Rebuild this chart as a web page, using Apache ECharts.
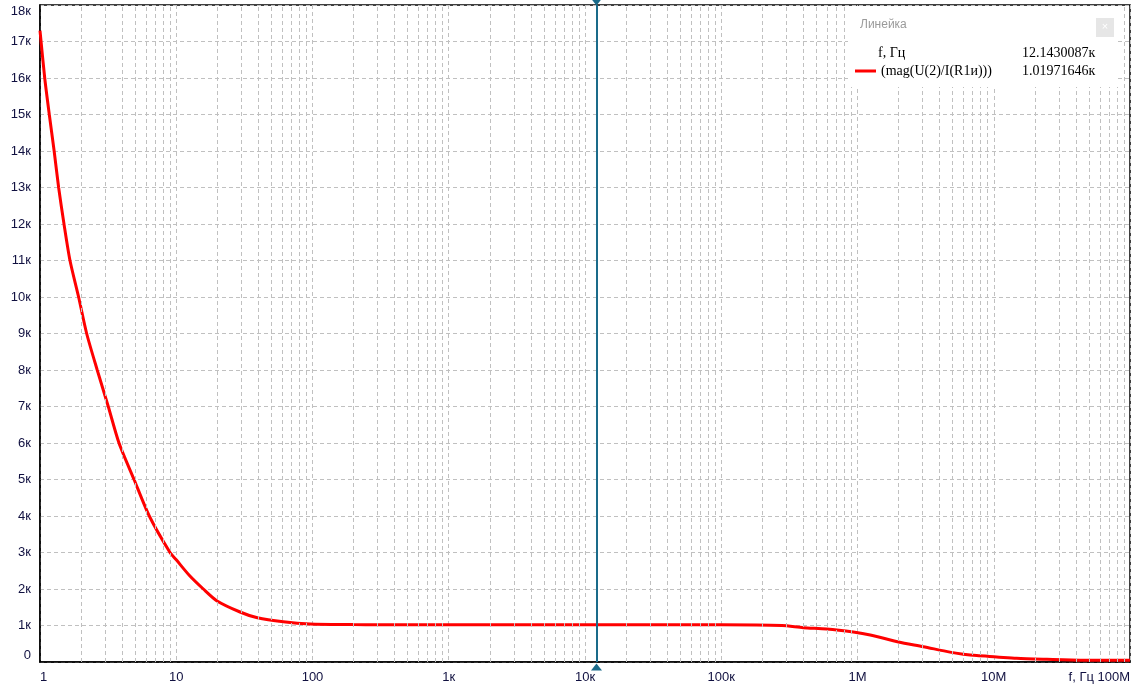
<!DOCTYPE html>
<html>
<head>
<meta charset="utf-8">
<script src="https://cdn.jsdelivr.net/npm/echarts@6/dist/echarts.min.js"></script>
<style>
html,body{margin:0;padding:0;background:#fff;}
#c{width:1136px;height:687px;}
</style>
</head>
<body>
<div id="c"></div>
<script>
// ---- data ----
var freqHz = [1, 1.083, 1.17, 1.27, 1.37, 1.5, 1.66, 1.92, 2.2, 2.63, 3.17, 3.8, 4.9, 6.34, 9.0, 10, 12.5, 15.8, 19.8, 29.4, 39.4, 61, 96, 200, 300, 1000, 10000, 100000, 279000, 400000, 594000, 931000, 1240000, 2000000, 3040000, 4770000, 5980000, 7500000, 10500000, 14700000, 23000000, 43000000, 100000000];
var magOhm = [17300, 16000, 15000, 14000, 13000, 12000, 11000, 10000, 9000, 8000, 7000, 6000, 5000, 4000, 3000, 2800, 2370, 2000, 1680, 1370, 1210, 1100, 1040, 1025, 1020, 1020, 1020, 1020, 1000, 940, 905, 820, 740, 550, 420, 270, 214, 175, 139, 100, 75, 50, 47];
var decades = [1, 10, 100, 1000, 10000, 100000, 1000000, 10000000];
var minorMultipliers = [2, 3, 4, 5, 6, 7, 8, 9];
var xTickLabels = {1: '1', 10: '10', 100: '100', 1000: '1к', 10000: '10к', 100000: '100к', 1000000: '1M', 10000000: '10M', 100000000: 'f, Гц 100M'};
var cursorFreq = 12143.0087;
var cursorValue = 1019.71646;
var legendTitle = 'Линейка';
var rowXName = 'f, Гц';
var rowXValue = '12.1430087к';
var rowSeriesName = '(mag(U(2)/I(R1и)))';
var rowSeriesValue = '1.01971646к';

var seriesData = freqHz.map(function (f, i) { return [f, magOhm[i]]; });
var minorLines = [];
decades.forEach(function (d) {
  minorMultipliers.forEach(function (m) { minorLines.push({ xAxis: d * m }); });
});

var labelColor = '#101040';
var gridColor = '#c0c0c0';
var cursorColor = '#1a6b8a';

var chart = echarts.init(document.getElementById('c'), null, { renderer: 'canvas' });
chart.setOption({
  animation: false,
  backgroundColor: '#ffffff',
  grid: { left: 40, right: 6, top: 5, bottom: 25, show: true, borderColor: '#000', borderWidth: 1.5, backgroundColor: 'transparent' },
  xAxis: {
    type: 'log', logBase: 10, min: 1, max: 100000000, splitNumber: 8,
    axisLine: { show: true, lineStyle: { color: '#000', width: 1.5 } },
    axisTick: { show: false },
    axisLabel: {
      color: labelColor, fontSize: 13, fontFamily: 'Liberation Sans, Arial, sans-serif', margin: 9,
      alignMinLabel: 'left', alignMaxLabel: 'right',
      formatter: function (v) { return xTickLabels[Math.round(v)] !== undefined ? xTickLabels[Math.round(v)] : ''; }
    },
    splitLine: { show: true, lineStyle: { color: gridColor, type: [4, 3], width: 1 } }
  },
  yAxis: {
    type: 'value', min: 0, max: 18000, interval: 1000,
    axisLine: { show: true, lineStyle: { color: '#000', width: 1.5 } },
    axisTick: { show: false },
    axisLabel: {
      color: labelColor, fontSize: 13, fontFamily: 'Liberation Sans, Arial, sans-serif', margin: 9,
      verticalAlignMinLabel: 'bottom', verticalAlignMaxLabel: 'top',
      formatter: function (v) { return v === 0 ? '0' : (v / 1000) + 'к'; }
    },
    splitLine: { show: true, lineStyle: { color: gridColor, type: [4, 3], width: 1 } }
  },
  series: [
    {
      name: 'minor', type: 'line', data: [], z: 1, silent: true,
      markLine: {
        silent: true, symbol: ['none', 'none'], label: { show: false },
        lineStyle: { color: gridColor, type: [4, 3], width: 1 },
        emphasis: { disabled: true },
        data: minorLines
      }
    },
    {
      name: rowSeriesName, type: 'line', data: seriesData, z: 3,
      showSymbol: false, smooth: 0.25,
      lineStyle: { color: '#ff0000', width: 3 },
      itemStyle: { color: '#ff0000' }
    },
    {
      name: 'cursor', type: 'line', data: [], z: 5, silent: true,
      markLine: {
        silent: true, symbol: ['none', 'none'], label: { show: false },
        lineStyle: { color: cursorColor, type: 'solid', width: 2 },
        emphasis: { disabled: true },
        data: [{ xAxis: cursorFreq }]
      },
      markPoint: {
        silent: true, label: { show: false },
        itemStyle: { color: cursorColor },
        data: [
          { coord: [cursorFreq, 0], symbol: 'triangle', symbolSize: [11, 7], symbolOffset: [0, 5] },
          { coord: [cursorFreq, 18000], symbol: 'triangle', symbolSize: [11, 7], symbolRotate: 180, symbolOffset: [0, -3] }
        ]
      }
    }
  ],
  graphic: {
    elements: [
      { type: 'rect', z: 100, shape: { x: 848, y: 6, width: 270, height: 81 }, style: { fill: '#ffffff' } },
      { type: 'text', z: 101, x: 860, y: 25, style: { text: legendTitle, fill: '#9a9a9a', font: '12px "Liberation Sans", Arial, sans-serif', verticalAlign: 'middle' } },
      { type: 'rect', z: 101, shape: { x: 1096, y: 18, width: 18, height: 19 }, style: { fill: '#e6e6e6' } },
      { type: 'text', z: 102, x: 1105, y: 27, style: { text: '×', fill: '#ffffff', font: '11px "Liberation Sans", Arial, sans-serif', align: 'center', verticalAlign: 'middle' } },
      { type: 'text', z: 101, x: 878, y: 53, style: { text: rowXName, fill: '#000', font: '14px "Liberation Serif", "Times New Roman", serif', verticalAlign: 'middle' } },
      { type: 'text', z: 101, x: 1022, y: 53, style: { text: rowXValue, fill: '#000', font: '14px "Liberation Serif", "Times New Roman", serif', verticalAlign: 'middle' } },
      { type: 'line', z: 101, shape: { x1: 855, y1: 71, x2: 876, y2: 71 }, style: { stroke: '#ff0000', lineWidth: 3 } },
      { type: 'text', z: 101, x: 881, y: 71, style: { text: rowSeriesName, fill: '#000', font: '14px "Liberation Serif", "Times New Roman", serif', verticalAlign: 'middle' } },
      { type: 'text', z: 101, x: 1022, y: 71, style: { text: rowSeriesValue, fill: '#000', font: '14px "Liberation Serif", "Times New Roman", serif', verticalAlign: 'middle' } }
    ]
  }
});
</script>
</body>
</html>
